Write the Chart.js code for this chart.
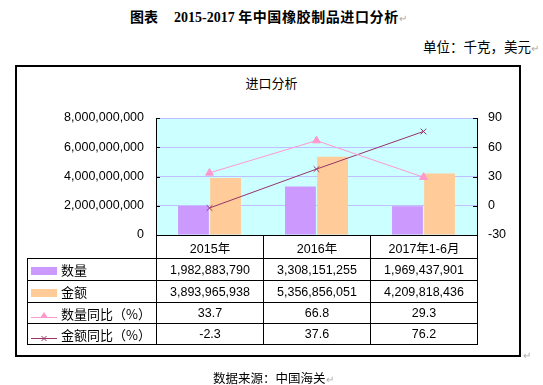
<!DOCTYPE html>
<html>
<head>
<meta charset="utf-8">
<script src="https://cdn.jsdelivr.net/npm/chart.js@4"></script>
<style>
  html, body { margin: 0; padding: 0; background: #fff; }
  #page { position: relative; width: 543px; height: 385px; overflow: hidden;
    font-family: "Liberation Sans", "Noto Sans CJK SC", sans-serif; color: #000; }
  #cv { position: absolute; left: 0; top: 0; }
  .pm { color: #aaa; font-size: 10px; font-weight: normal; }
  #ttl { position: absolute; left: 130px; top: 6px; font-size: 14px; font-weight: bold; white-space: nowrap;
    font-family: "Liberation Serif", "Noto Sans CJK SC", serif; }
  #ttl .cn { font-family: "Noto Sans CJK SC", sans-serif; letter-spacing: 0.6px; }
  #unit { position: absolute; right: 4px; top: 36px; font-size: 13.5px; white-space: nowrap;
    font-family: "Noto Sans CJK SC", sans-serif; }
  #box { position: absolute; left: 15px; top: 65px; width: 502px; height: 288px; border: 2px solid #000; }
  #sub { position: absolute; left: 0; width: 543px; top: 73px; text-align: center; font-size: 13px;
    font-family: "Noto Sans CJK SC", sans-serif; padding-left: 0; }
  #foot { position: absolute; left: 213px; top: 368px; font-size: 12.5px; white-space: nowrap;
    font-family: "Noto Sans CJK SC", sans-serif; }
  #endmark { position: absolute; left: 523px; top: 350px; }
  #tbl { position: absolute; border-collapse: collapse; table-layout: fixed; font-size: 12.5px; }
  #tbl td { border: 1px solid #000; padding: 0; text-align: center; white-space: nowrap; overflow: hidden; }
  #tbl td.blank { border: none; }
  #tbl td.lab { text-align: left; font-family: "Noto Sans CJK SC", sans-serif; font-size: 13px; }
  .sym { display: inline-block; width: 26px; height: 14px; vertical-align: middle; margin: 0 4px 0 3px; }
</style>
</head>
<body>
<div id="page">
  <div id="ttl">图表<span style="display:inline-block;width:16px"></span>2015-2017 <span class="cn">年中国橡胶制品进口分析</span><span class="pm">↵</span></div>
  <div id="unit">单位：千克，美元<span class="pm">↵</span></div>
  <div id="box"></div>
  <div id="sub">进口分析</div>
  <canvas id="cv" width="543" height="385"></canvas>
  <table id="tbl"></table>
  <div id="endmark" class="pm">↵</div>
  <div id="foot">数据来源：中国海关<span class="pm">↵</span></div>
</div>
<script>
const categories = ['2015年', '2016年', '2017年1-6月'];
const qty = [1982883790, 3308151255, 1969437901];
const amount = [3893965938, 5356856051, 4209818436];
const qtyYoY = [33.7, 66.8, 29.3];
const amountYoY = [-2.3, 37.6, 76.2];
const leftTicks = [0, 2000000000, 4000000000, 6000000000, 8000000000];
const rightTicks = [-30, 0, 30, 60, 90];

const C_QTY = '#CC99FF', C_AMT = '#FFCC99', C_QYOY = '#FF99CC', C_AYOY = '#993366';
const PLOT = { left: 156, right: 477, top: 118, bottom: 235 };
const fmt = v => Number(v).toLocaleString('en-US');

// plot background + inward tick marks
const plotBg = {
  id: 'plotBg',
  beforeDraw(chart) {
    const a = chart.chartArea, ctx = chart.ctx;
    ctx.save();
    ctx.fillStyle = '#CCFFFF';
    ctx.fillRect(a.left, a.top, a.right - a.left, a.bottom - a.top);
    ctx.restore();
  },
  afterDraw(chart) {
    const ctx = chart.ctx, y = chart.scales.y, y1 = chart.scales.y1;
    ctx.save();
    ctx.strokeStyle = '#000';
    ctx.lineWidth = 1;
    ctx.beginPath();
    y.ticks.forEach(t => {
      const p = Math.round(y.getPixelForValue(t.value)) + 0.5;
      ctx.moveTo(y.right, p); ctx.lineTo(y.right + 4, p);
    });
    y1.ticks.forEach(t => {
      const p = Math.round(y1.getPixelForValue(t.value)) + 0.5;
      ctx.moveTo(y1.left - 4, p); ctx.lineTo(y1.left, p);
    });
    ctx.stroke();
    ctx.restore();
  }
};

const chart = new Chart(document.getElementById('cv'), {
  data: {
    labels: categories,
    datasets: [
      { type: 'line', label: '数量同比（%）', data: qtyYoY, yAxisID: 'y1', order: 0,
        borderColor: C_QYOY, backgroundColor: C_QYOY, borderWidth: 1,
        pointStyle: 'triangle', pointRadius: 4.5, tension: 0 },
      { type: 'line', label: '金额同比（%）', data: amountYoY, yAxisID: 'y1', order: 0,
        borderColor: C_AYOY, backgroundColor: C_AYOY, borderWidth: 1,
        pointStyle: 'crossRot', pointRadius: 4, tension: 0 },
      { type: 'bar', label: '数量', data: qty, yAxisID: 'y', order: 1,
        backgroundColor: C_QTY, categoryPercentage: 0.6, barPercentage: 0.96 },
      { type: 'bar', label: '金额', data: amount, yAxisID: 'y', order: 1,
        backgroundColor: C_AMT, categoryPercentage: 0.6, barPercentage: 0.96 },
    ],
  },
  options: {
    responsive: false, animation: false,
    layout: { padding: { left: 0, right: 0, top: PLOT.top, bottom: 385 - PLOT.bottom } },
    plugins: { legend: { display: false }, title: { display: false }, tooltip: { enabled: false } },
    scales: {
      x: { display: false, offset: true },
      y: {
        position: 'left', min: 0, max: 8000000000,
        afterBuildTicks: s => { s.ticks = leftTicks.map(v => ({ value: v })); },
        afterFit: s => { s.width = PLOT.left; },
        grid: { color: '#C0C0FF', drawTicks: false },
        border: { color: '#000', width: 1 },
        ticks: { padding: 12, color: '#000', font: { family: 'Liberation Sans', size: 12.5 }, callback: fmt },
      },
      y1: {
        position: 'right', min: -30, max: 90,
        afterBuildTicks: s => { s.ticks = rightTicks.map(v => ({ value: v })); },
        afterFit: s => { s.width = 543 - PLOT.right; },
        grid: { display: false, drawTicks: false },
        border: { color: '#000', width: 1 },
        ticks: { padding: 11, color: '#000', font: { family: 'Liberation Sans', size: 12.5 } },
      },
    },
  },
  plugins: [plotBg],
});

// data table below the plot, columns follow the category scale
function symbol(kind) {
  if (kind === 0) return `<svg class="sym" viewBox="0 0 26 14"><rect x="0" y="3" width="26" height="8" fill="${C_QTY}"/></svg>`;
  if (kind === 1) return `<svg class="sym" viewBox="0 0 26 14"><rect x="0" y="3" width="26" height="8" fill="${C_AMT}"/></svg>`;
  if (kind === 2) return `<svg class="sym" viewBox="0 0 26 14"><line x1="0" y1="9.5" x2="26" y2="9.5" stroke="${C_QYOY}"/><path d="M13 4 L17 10 L9 10 Z" fill="${C_QYOY}"/></svg>`;
  return `<svg class="sym" viewBox="0 0 26 14"><line x1="0" y1="9.5" x2="26" y2="9.5" stroke="${C_AYOY}"/><path d="M10.5 7 L15.5 12 M15.5 7 L10.5 12" stroke="${C_AYOY}"/></svg>`;
}

const a = chart.chartArea;
const colW = (a.right - a.left) / categories.length;
const tableLeft = 27;
const rows = [
  { name: '数量', vals: qty.map(fmt) },
  { name: '金额', vals: amount.map(fmt) },
  { name: '数量同比（%）', vals: qtyYoY.map(v => v.toFixed(1)) },
  { name: '金额同比（%）', vals: amountYoY.map(v => v.toFixed(1)) },
];
const rowH = [23, 22, 22, 21, 21];
const tbl = document.getElementById('tbl');
tbl.style.left = tableLeft + 'px';
tbl.style.top = Math.round(a.bottom) + 'px';
let html = `<colgroup><col style="width:${a.left - tableLeft}px">` +
  categories.map(() => `<col style="width:${colW}px">`).join('') + '</colgroup>';
html += `<tr style="height:${rowH[0]}px"><td class="blank"></td>` +
  categories.map(c => `<td>${c}</td>`).join('') + '</tr>';
rows.forEach((r, i) => {
  html += `<tr style="height:${rowH[i + 1]}px"><td class="lab">${symbol(i)}${r.name}</td>` +
    r.vals.map(v => `<td>${v}</td>`).join('') + '</tr>';
});
tbl.innerHTML = html;
</script>
</body>
</html>
